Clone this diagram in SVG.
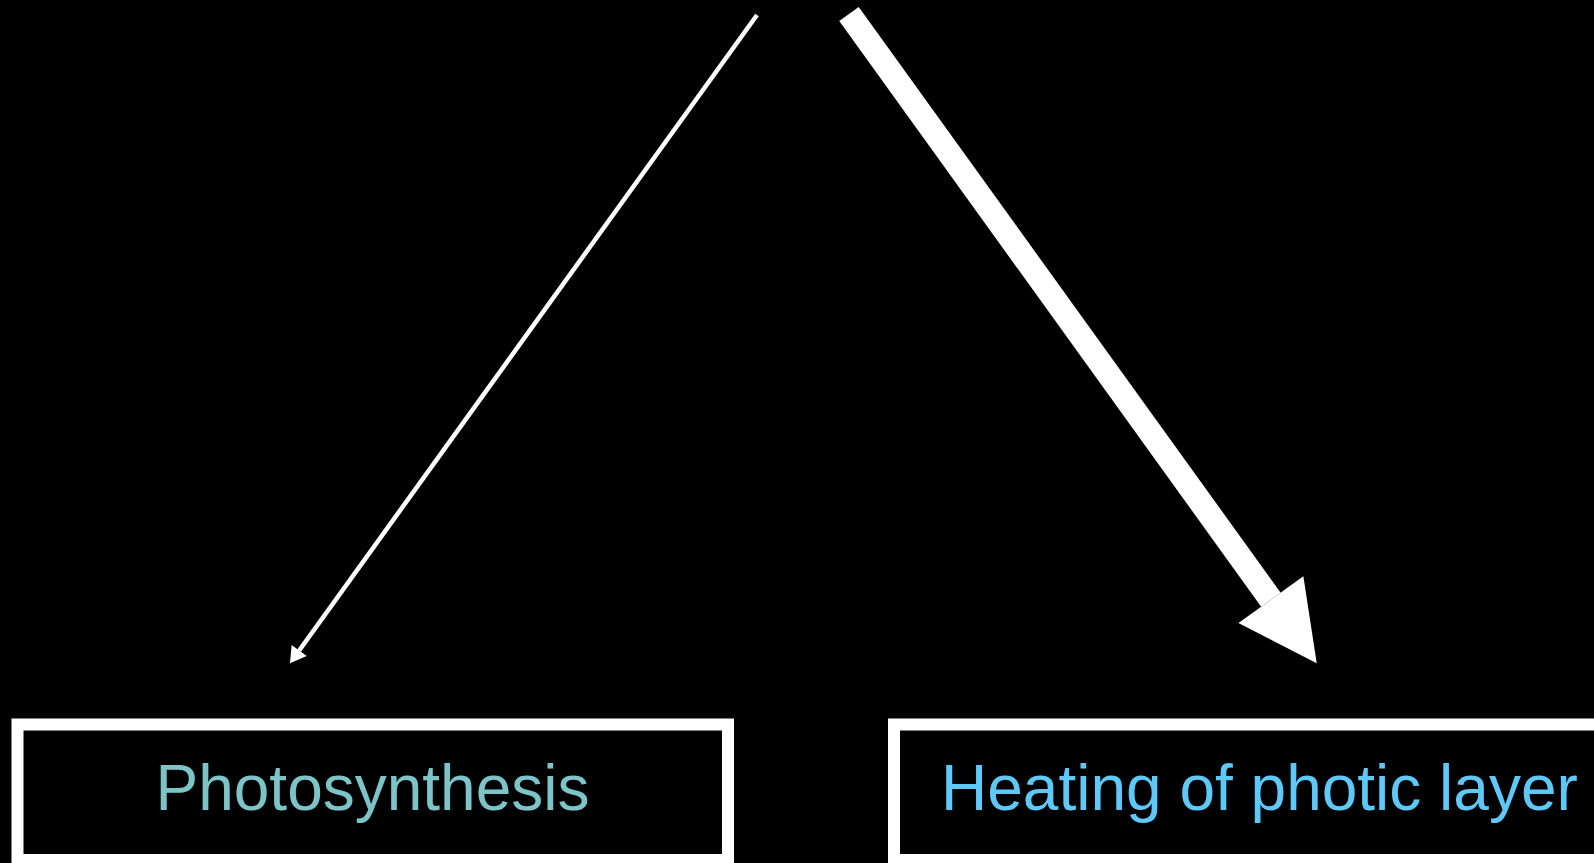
<svg xmlns="http://www.w3.org/2000/svg" width="1594" height="863" viewBox="0 0 1594 863">
<style>
.box{fill:#000;stroke:#fff;stroke-width:12}
.lbl{font-family:"Liberation Sans",Arial,sans-serif;font-size:64px}
.conn{stroke:#fff;fill:none;stroke-linecap:butt}
</style>
<defs>
<marker id="headThin" markerUnits="userSpaceOnUse" orient="auto" refX="0" refY="0" markerWidth="20" markerHeight="20" overflow="visible">
<path d="M0,-9.3 L15.8,0 L0,9.3 z" fill="#fff"/>
</marker>
<marker id="headThick" markerUnits="userSpaceOnUse" orient="auto" refX="0" refY="0" markerWidth="80" markerHeight="80" overflow="visible">
<path d="M0,-40 L78.4,0 L0,40 z" fill="#fff"/>
</marker>
</defs>
<rect width="1594" height="863" fill="#000"/>
<g id="connectors">
<line class="conn" x1="757" y1="15" x2="299.2" y2="650.5" stroke-width="4.5" marker-end="url(#headThin)"/>
<line class="conn" x1="849" y1="14" x2="1270.9" y2="599.7" stroke-width="24" marker-end="url(#headThick)"/>
</g>
<g id="photosynthesis">
<rect class="box" x="17.5" y="724.5" width="710.5" height="135.5"/>
<text class="lbl" x="372.5" y="810" text-anchor="middle" fill="#7DC4C9">Photosynthesis</text>
</g>
<g id="heating">
<rect class="box" x="894" y="724.5" width="712" height="135.5"/>
<text class="lbl" x="941" y="810" fill="#5EC8F8">Heating of photic layer</text>
</g>
</svg>
